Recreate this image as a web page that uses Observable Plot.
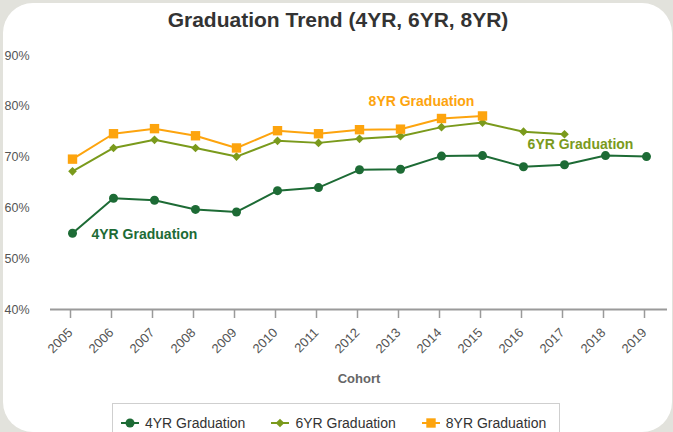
<!DOCTYPE html>
<html>
<head>
<meta charset="utf-8">
<script src="https://cdn.jsdelivr.net/npm/d3@7"></script>
<script src="https://cdn.jsdelivr.net/npm/@observablehq/plot@0.6"></script>
<style>
  html, body { margin: 0; padding: 0; }
  body { width: 673px; height: 432px; overflow: hidden; background: #e2e2dc; position: relative; font-family: "Liberation Sans", Arial, Helvetica, sans-serif; }
  #card { position: absolute; left: 3px; top: 3px; width: 669px; height: 429px; background: #fff; border-radius: 30px; }
  #title { position: absolute; left: 0; top: 9px; width: 676px; text-align: center; font-size: 21px; line-height: 21px; font-weight: bold; color: #333; }
  #chart { position: absolute; left: 0; top: 0; }
  #legend { position: absolute; left: 112px; top: 403px; width: 448px; height: 40px; box-sizing: border-box; border: 1px solid #cfcfcf; display: flex; align-items: flex-start; padding: 11px 0 0 8px; font-size: 14px; color: #333; }
  .item { display: flex; align-items: center; margin-right: 26px; line-height: 16px; white-space: nowrap; flex-shrink: 0; }
  .item svg { margin-right: 6px; }
</style>
</head>
<body>
<div id="card"></div>
<div id="title">Graduation Trend (4YR, 6YR, 8YR)</div>
<div id="chart"></div>
<div id="legend"></div>
<script>
const years = [2005, 2006, 2007, 2008, 2009, 2010, 2011, 2012, 2013, 2014, 2015, 2016, 2017, 2018, 2019];
const grad4 = [55.0, 61.9, 61.5, 59.7, 59.2, 63.4, 64.0, 67.5, 67.6, 70.2, 70.3, 68.1, 68.5, 70.3, 70.1];
const grad6 = [67.2, 71.8, 73.4, 71.8, 70.1, 73.2, 72.8, 73.6, 74.1, 75.9, 76.8, 75.0, 74.5];
const grad8 = [69.6, 74.6, 75.6, 74.2, 71.8, 75.2, 74.6, 75.4, 75.5, 77.6, 78.1];
const seriesNames = ["4YR Graduation", "6YR Graduation", "8YR Graduation"];
const seriesValues = [grad4, grad6, grad8];
const labelYears = [2005, 2017, 2014];
const yTicks = [40, 50, 60, 70, 80, 90];
const xTitle = "Cohort";

// styles
const colors = ["#1d6b35", "#7a9a1c", "#fda40e"];
const symbols = ["circle", "diamond2", "square"];
const radii = [4.5, 3.9, 5.3];
const labelStyle = [
  {dx: 19, dy: 1, textAnchor: "start"},
  {dx: 16, dy: 10, textAnchor: "middle"},
  {dx: -20, dy: -17, textAnchor: "middle"}
];

const rows = seriesValues.map((vals, i) => vals.map((v, j) => ({year: years[j], value: v, series: seriesNames[i]})));

const marks = [
  Plot.ruleY([40], {stroke: "#9a9a9a", strokeWidth: 2}),
  Plot.axisY({ticks: yTicks, tickFormat: d => d + "%", tickSize: 0, tickPadding: 46, textAnchor: "start", fontSize: 12.5, fill: "#555", label: null}),
  Plot.axisX({tickSize: 9, stroke: "#9a9a9a", strokeWidth: 1.5, tickRotate: -45, tickFormat: d => String(d), fontSize: 13, fill: "#555", label: null, tickPadding: 12, dx: -2}),
  Plot.text([xTitle], {frameAnchor: "bottom", dy: 73, fontSize: 13, fontWeight: "bold", fill: "#666"})
];
rows.forEach((r, i) => {
  marks.push(Plot.line(r, {x: "year", y: "value", stroke: colors[i], strokeWidth: 2}));
  marks.push(Plot.dot(r, {x: "year", y: "value", fill: colors[i], stroke: "none", symbol: symbols[i], r: radii[i]}));
  marks.push(Plot.text(r.filter(d => d.year === labelYears[i]), {x: "year", y: "value", text: "series", fill: colors[i], fontWeight: "bold", fontSize: 14, ...labelStyle[i]}));
});

const chart = Plot.plot({
  width: 673,
  height: 400,
  marginTop: 55,
  marginBottom: 91,
  marginLeft: 50,
  marginRight: 6,
  style: {background: "transparent", fontFamily: "'Liberation Sans', Arial, Helvetica, sans-serif"},
  x: {type: "point", domain: years, padding: 0.46},
  y: {domain: [40, 90]},
  marks
});
document.getElementById("chart").appendChild(chart);

// legend
const legend = document.getElementById("legend");
seriesNames.forEach((name, i) => {
  const item = document.createElement("div");
  item.className = "item";
  const sw = d3.create("svg").attr("width", 18).attr("height", 14);
  sw.append("line").attr("x1", 0).attr("x2", 18).attr("y1", 7).attr("y2", 7).attr("stroke", colors[i]).attr("stroke-width", 2);
  const symType = [d3.symbolCircle, d3.symbolDiamond2, d3.symbolSquare][i];
  sw.append("path").attr("transform", "translate(9,7)").attr("fill", colors[i])
    .attr("d", d3.symbol(symType, Math.PI * radii[i] * radii[i])());
  item.appendChild(sw.node());
  const t = document.createElement("span");
  t.textContent = name;
  item.appendChild(t);
  legend.appendChild(item);
});
</script>
</body>
</html>
